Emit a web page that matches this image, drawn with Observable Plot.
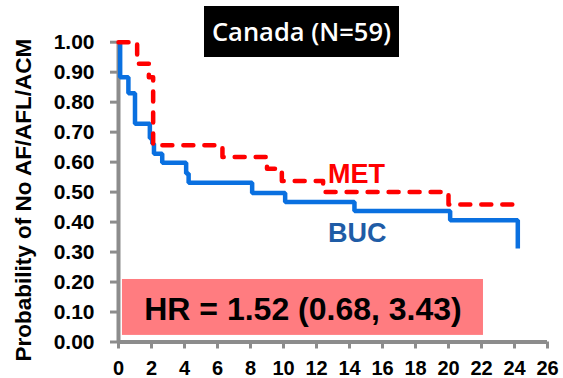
<!DOCTYPE html>
<html>
<head>
<meta charset="utf-8">
<script src="https://cdn.jsdelivr.net/npm/d3@7"></script>
<script src="https://cdn.jsdelivr.net/npm/@observablehq/plot@0.6"></script>
<style>
  html, body { margin: 0; padding: 0; background: #fff; }
  #wrap { position: relative; width: 563px; height: 378px; overflow: hidden; }
  #title {
    position: absolute; left: 204px; top: 6px; width: 195px; height: 51px;
    background: #000; color: #fff; font-family: "Open Sans", sans-serif; font-weight: 600;
    font-size: 25.5px; line-height: 51px; text-align: center; white-space: nowrap;
  }
</style>
</head>
<body>
<div id="wrap"><div id="title">Canada (N=59)</div></div>
<script>
// Data (months, probability)
const bucTime  = [0, 0.1, 0.6, 1.0, 1.9, 2.05, 2.15, 2.65, 4.1, 4.25, 8.1, 10.1, 14.3, 20.1, 24.2];
const bucSurv  = [1.0, 0.883, 0.83, 0.728, 0.68, 0.661, 0.628, 0.598, 0.562, 0.531, 0.497, 0.467, 0.437, 0.406, 0.312];
const metTime  = [0, 1.13, 1.84, 2.1, 6.3, 9.0, 9.9, 12.4, 20.0, 23.9];
const metSurv  = [1.0, 0.928, 0.883, 0.656, 0.617, 0.578, 0.537, 0.50, 0.459, 0.459];
const xTicks   = [0, 2, 4, 6, 8, 10, 12, 14, 16, 18, 20, 22, 24, 26];
const yTicks   = [0, 0.1, 0.2, 0.3, 0.4, 0.5, 0.6, 0.7, 0.8, 0.9, 1.0];
const seriesLabels = ["MET", "BUC"];
const titleText = "Canada (N=59)";
const hrText = "HR = 1.52 (0.68, 3.43)";
const yLabel = "Probability of No AF/AFL/ACM";

const buc = bucTime.map((t, i) => ({t, s: bucSurv[i]}));
const met = metTime.map((t, i) => ({t, s: metSurv[i]}));

document.getElementById("title").textContent = titleText;

const gray = "#8c8c8c";
const font = "Liberation Sans, Arial, sans-serif";

const chart = Plot.plot({
  width: 563,
  height: 378,
  marginLeft: 118,
  marginRight: 16,
  marginTop: 41.7,
  marginBottom: 36.5,
  style: {fontFamily: font, background: "transparent", overflow: "visible"},
  x: {domain: [0, 26], axis: null},
  y: {domain: [0, 1], axis: null},
  marks: [
    Plot.rect([0], {x1: 0.24, x2: 22.12, y1: 0.022, y2: 0.2085, fill: "#ff7c80"}),
    Plot.text([hrText], {x: 11.18, y: 0.108, text: d => d, fontSize: 32, fontWeight: "bold", fill: "#000"}),
    Plot.ruleX([0], {stroke: gray, strokeWidth: 4}),
    Plot.ruleY([0], {stroke: gray, strokeWidth: 4}),
    Plot.axisY({ticks: yTicks, tickSize: 8, tickPadding: 16, tickFormat: d3.format(".2f"), stroke: gray, strokeWidth: 3, fill: "#000", fontSize: 21, fontWeight: "bold", label: null}),
    Plot.axisX({ticks: xTicks, tickSize: 7, tickPadding: 12, tickFormat: d => String(d), stroke: gray, strokeWidth: 3, fill: "#000", fontSize: 20, fontWeight: "bold", label: null}),
    Plot.line(buc, {x: "t", y: "s", curve: "step-after", stroke: "#0a70e0", strokeWidth: 4.5, strokeLinejoin: "miter", strokeLinecap: "butt"}),
    Plot.line(met, {x: "t", y: "s", curve: "step-after", stroke: "#ff0000", strokeWidth: 4.5, strokeDasharray: "10 11", strokeLinecap: "round"}),
    Plot.text([seriesLabels[0]], {x: 12.7, y: 0.529, text: d => d, textAnchor: "start", lineAnchor: "bottom", fontSize: 27, fontWeight: "bold", fill: "#ff0000"}),
    Plot.text([seriesLabels[1]], {x: 12.7, y: 0.333, text: d => d, textAnchor: "start", lineAnchor: "bottom", fontSize: 27, fontWeight: "bold", fill: "#1f5ca6"}),
    Plot.text([yLabel], {frameAnchor: "left", textAnchor: "middle", text: d => d, rotate: -90, dx: -95, dy: 8, fontSize: 22.5, fontWeight: "bold", fill: "#000"})
  ]
});
document.getElementById("wrap").appendChild(chart);
chart.style.position = "absolute";
chart.style.left = "0px";
chart.style.top = "0px";
document.getElementById("title").style.zIndex = 2;
</script>
</body>
</html>
